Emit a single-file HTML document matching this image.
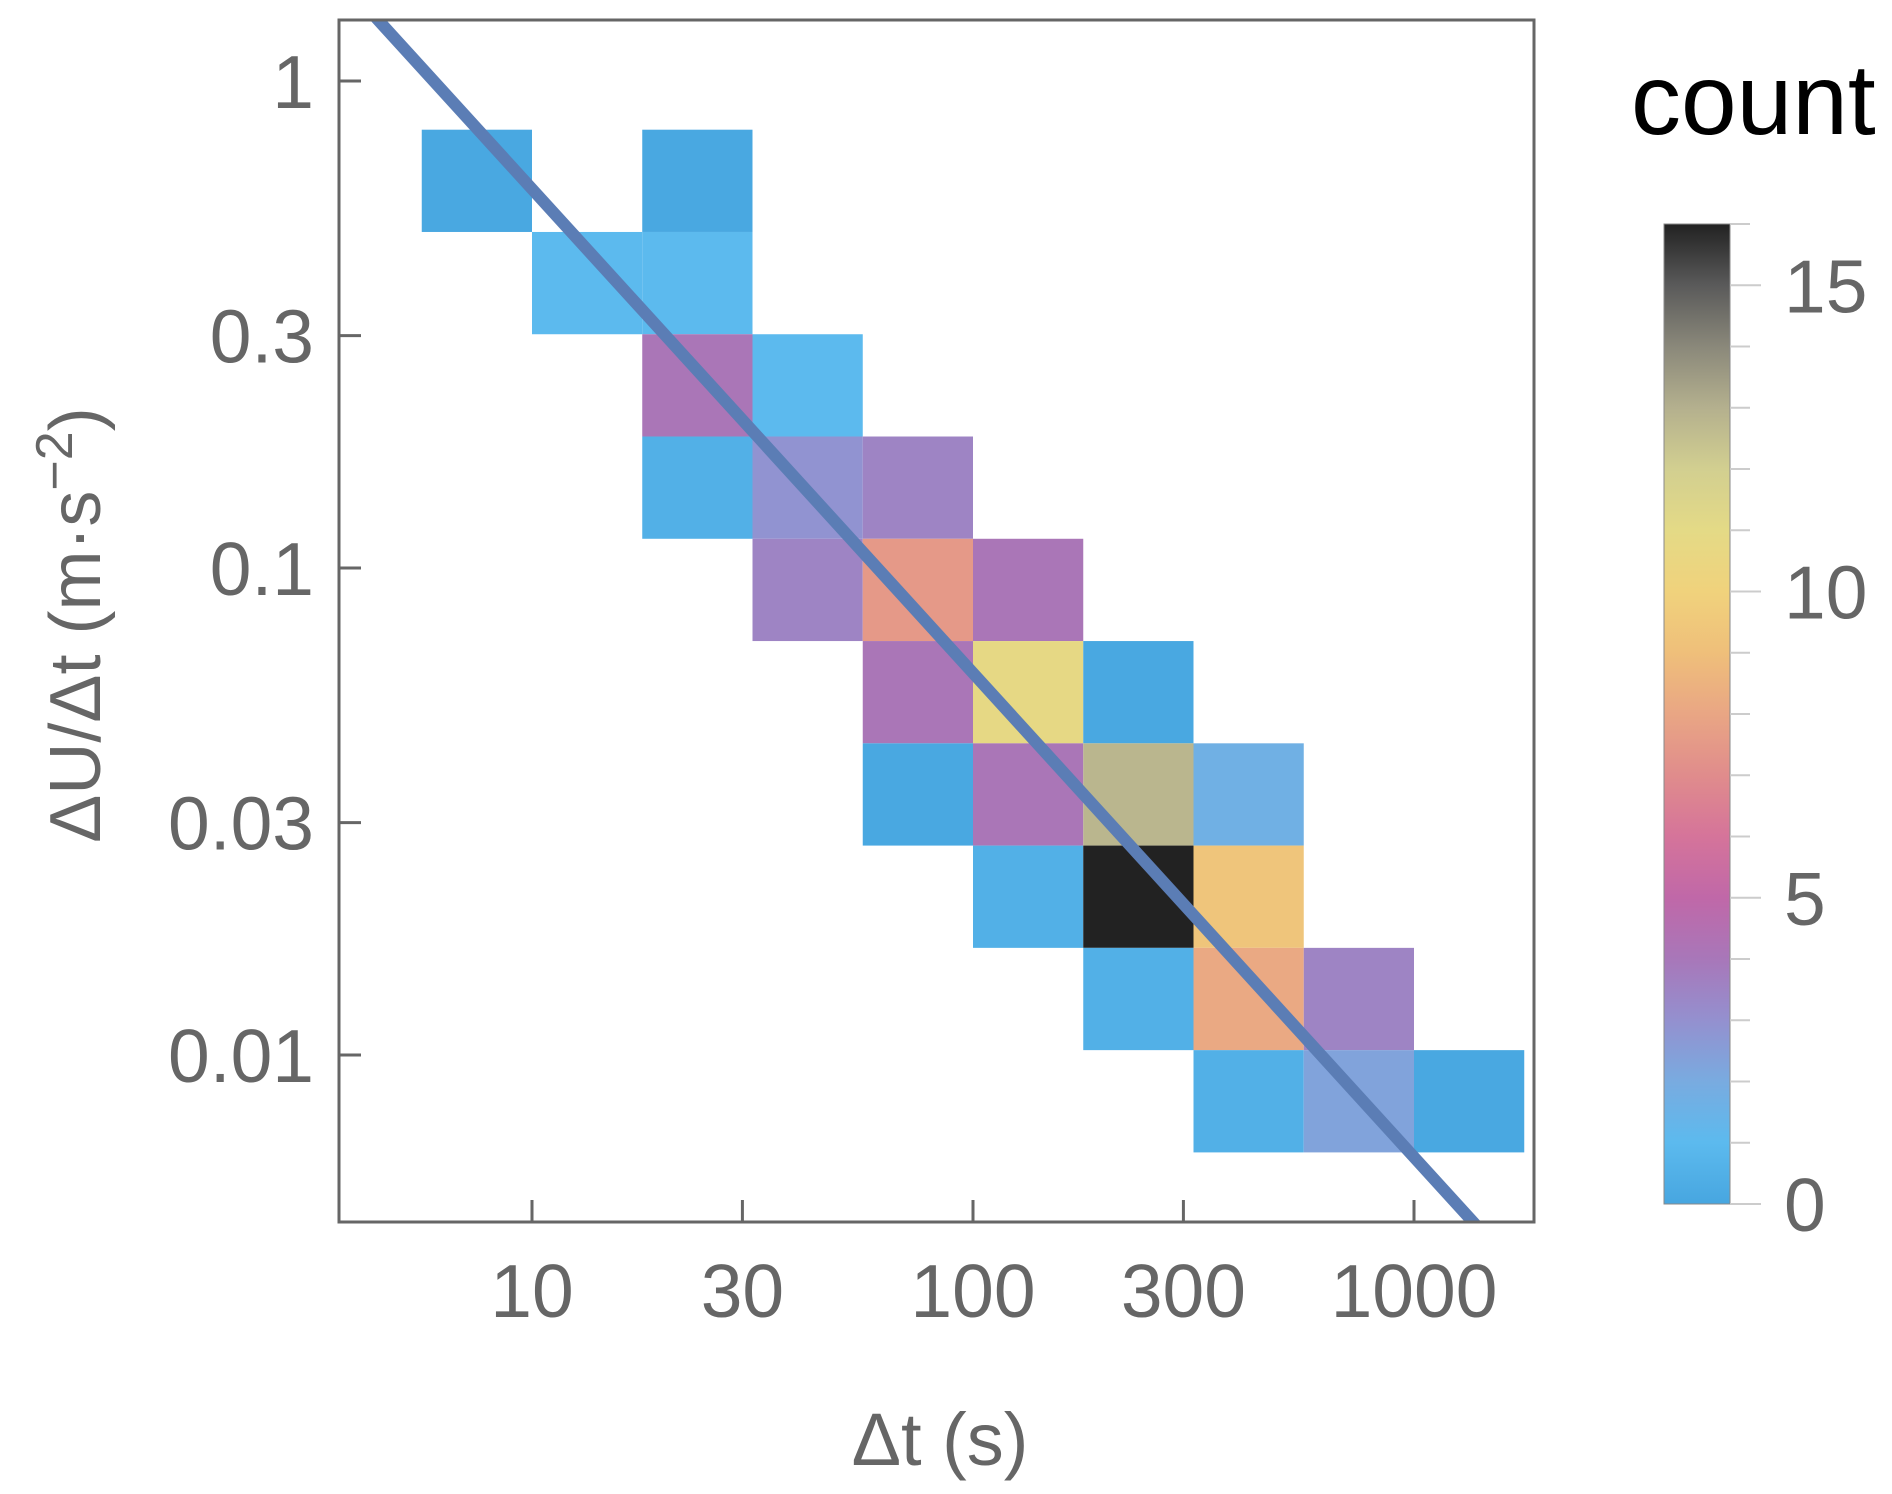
<!DOCTYPE html>
<html><head><meta charset="utf-8">
<style>
html,body{margin:0;padding:0;background:#fff;}
svg{display:block;font-family:"Liberation Sans",sans-serif;}
</style></head>
<body>
<svg id="chart" width="1892" height="1494" viewBox="0 0 1892 1494" xmlns="http://www.w3.org/2000/svg">
<g id="cells"></g>
<g id="fit"></g>
<rect x="339" y="20" width="1195" height="1202" fill="none" stroke="#666" stroke-width="3"/>
<g id="axes"></g>
<text x="940" y="1465" font-size="74" fill="#666" text-anchor="middle">Δt (s)</text>
<text transform="translate(100,625) rotate(-90)" font-size="72" fill="#666" text-anchor="middle">ΔU/Δt (m·s<tspan dy="-28" font-size="52">−2</tspan><tspan dy="28">)</tspan></text>
<text x="1631" y="134" font-size="100" fill="#000">count</text>
<defs><linearGradient id="cbg" x1="0" y1="1" x2="0" y2="0"></linearGradient></defs>
<rect x="1664" y="224" width="66" height="980" fill="url(#cbg)" stroke="#888" stroke-width="1"/>
<g id="cbar"></g>
</svg>
<script>
// Data
const xEdgesLog = [0.75,1.0,1.25,1.5,1.75,2.0,2.25,2.5,2.75,3.0,3.25];
const yEdgesLog = [-2.2,-1.99,-1.78,-1.57,-1.36,-1.15,-0.94,-0.73,-0.52,-0.31,-0.10];
// cells: column index, row index (from bottom), count
const cellCol = [0,2, 1,2, 2,3, 2,3,4, 3,4,5, 4,5,6, 4,5,6,7, 5,6,7, 6,7,8, 7,8,9];
const cellRow = [9,9, 8,8, 7,7, 6,6,6, 5,5,5, 4,4,4, 3,3,3,3, 2,2,2, 1,1,1, 0,0,0];
const cellCount = [0.1,0.1, 1.0,1.0, 4.1,1.0, 0.5,2.9,3.5, 3.5,7.5,4.1, 4.1,10.8,0.1, 0.1,4.1,12.8,1.7, 0.5,16,9.3, 0.5,8.1,3.5, 0.5,2.3,0.1];
const xTickVals = [10,30,100,300,1000];
const xTickLabels = ["10","30","100","300","1000"];
const yTickVals = [1,0.3,0.1,0.03,0.01];
const yTickLabels = ["1","0.3","0.1","0.03","0.01"];
const fitCoef = 5.92, fitExp = -0.994;
const fitRange = [4.4, 1400];
const cbTickVals = [0,5,10,15];
const cbMin = 0, cbMax = 16;
const cmapVals = [0,1,2,3,4,5,6,7,8,9,10,11,12,13,14,15,16];
const cmapCols = ["#47a6e0","#5cbaee","#79abe0","#9490cf","#a877b9","#c068a8","#d5749a","#e08c8c","#e9a684","#efbf7a","#f0d27c","#e4da86","#d2cf90","#b4b08e","#8a887a","#5a5a5a","#222222"];

const NS="http://www.w3.org/2000/svg";
const X = v => 532 + (Math.log10(v)-1)*441;
const XL = l => 532 + (l-1)*441;
const Y = v => 81 - Math.log10(v)*487;
const YL = l => 81 - l*487;
const CB = v => 1204 - (v-cbMin)/(cbMax-cbMin)*980;
function hex(c){return [1,3,5].map(i=>parseInt(c.substr(i,2),16));}
function cmap(v){
  for(let i=0;i<cmapVals.length-1;i++){
    if(v<=cmapVals[i+1]){
      const t=(v-cmapVals[i])/(cmapVals[i+1]-cmapVals[i]);
      const a=hex(cmapCols[i]),b=hex(cmapCols[i+1]);
      return "rgb("+a.map((x,k)=>Math.round(x+(b[k]-x)*t)).join(",")+")";
    }
  }
  return cmapCols[cmapCols.length-1];
}
function mk(tag,attrs,parent){const e=document.createElementNS(NS,tag);for(const k in attrs)e.setAttribute(k,attrs[k]);parent.appendChild(e);return e;}

const cells=document.getElementById('cells');
for(let i=0;i<cellCount.length;i++){
  const c=cellCol[i], r=cellRow[i];
  const x0=XL(xEdgesLog[c]), x1=XL(xEdgesLog[c+1]);
  const y0=YL(yEdgesLog[r+1]), y1=YL(yEdgesLog[r]);
  const el=mk('rect',{x:x0,y:y0,width:x1-x0,height:y1-y0,fill:cmap(cellCount[i])},cells);
  
  
}

const fit=document.getElementById('fit');
const ln=mk('line',{x1:X(fitRange[0]),y1:Y(fitCoef*Math.pow(fitRange[0],fitExp)),x2:X(fitRange[1]),y2:Y(fitCoef*Math.pow(fitRange[1],fitExp)),stroke:"#5b7db5","stroke-width":12},fit);


const cp=mk('clipPath',{id:'pc'},document.querySelector('defs'));
mk('rect',{x:339,y:20,width:1195,height:1202},cp);
fit.setAttribute('clip-path','url(#pc)');

const axes=document.getElementById('axes');
xTickVals.forEach((v,i)=>{
  const t=mk('line',{x1:X(v),x2:X(v),y1:1222,y2:1200,stroke:"#666","stroke-width":3},axes);
  
  
  const tx=mk('text',{x:X(v),y:1317,"font-size":75,fill:"#666","text-anchor":"middle"},axes);
  tx.textContent=xTickLabels[i];
  
  
});
yTickVals.forEach((v,i)=>{
  const t=mk('line',{x1:339,x2:361,y1:Y(v),y2:Y(v),stroke:"#666","stroke-width":3},axes);
  
  
  const tx=mk('text',{x:314,y:Y(v)+27,"font-size":75,fill:"#666","text-anchor":"end"},axes);
  tx.textContent=yTickLabels[i];
  
  
});

const g=document.getElementById('cbg');
cmapVals.forEach((v,i)=>{mk('stop',{offset:(v-cbMin)/(cbMax-cbMin),"stop-color":cmapCols[i]},g);});
const cb=document.getElementById('cbar');
for(let v=cbMin;v<=cbMax;v++){
  const major=cbTickVals.includes(v);
  const t=mk('line',{x1:1730,x2:major?1761:1750,y1:CB(v),y2:CB(v),stroke:"#ccc","stroke-width":2},cb);
  
  
}
cbTickVals.forEach(v=>{
  const tx=mk('text',{x:1784,y:CB(v)+27,"font-size":75,fill:"#666"},cb);
  tx.textContent=String(v);
  
  
});
</script>
</body></html>
